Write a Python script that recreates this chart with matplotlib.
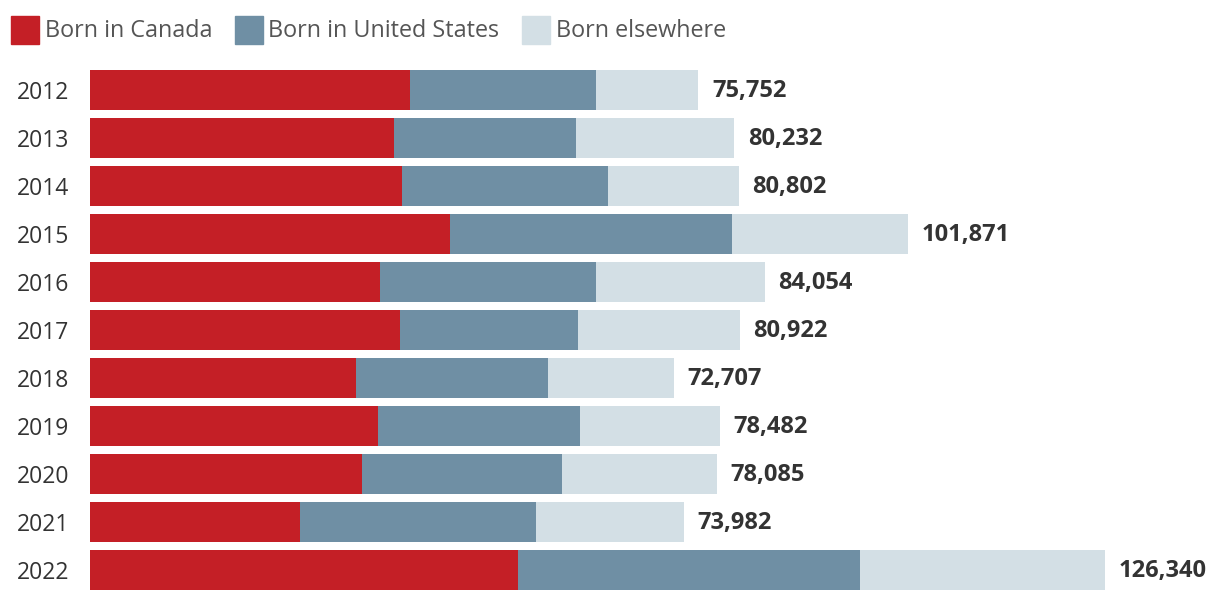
import matplotlib
matplotlib.use("Agg")
import matplotlib.pyplot as plt
from matplotlib.patches import Rectangle

years = ["2012", "2013", "2014", "2015", "2016", "2017", "2018", "2019", "2020", "2021", "2022"]
totals = [75752, 80232, 80802, 101871, 84054, 80922, 72707, 78482, 78085, 73982, 126340]
canada = [39850, 37860, 38850, 44830, 36110, 38600, 33130, 35870, 33870, 26150, 53300]
usa = [23160, 22660, 25650, 35110, 26900, 22170, 23910, 25150, 24910, 29390, 42590]
elsewhere = [t - c - u for t, c, u in zip(totals, canada, usa)]

labels = ["Born in Canada", "Born in United States", "Born elsewhere"]
colors = ["#C41F26", "#6F8FA4", "#D3DFE5"]

plt.rcParams["font.family"] = ["Open Sans", "DejaVu Sans"]

W, H = 1220, 602
fig = plt.figure(figsize=(W / 100, H / 100), dpi=100)
ax = fig.add_axes([90 / W, 1 - 594 / H, (W - 90) / W, 528 / H])

ypos = list(range(len(years)))
left = [0] * len(years)
for vals, col in zip([canada, usa, elsewhere], colors):
  ax.barh(ypos, vals, left=left, height=40 / 48, color=col, linewidth=0)
  left = [l + v for l, v in zip(left, vals)]

for y, t in zip(ypos, totals):
  ax.text(t + 1700, y + 0.02, f"{t:,}", va="center", ha="left", fontsize=17,
          fontweight="bold", color="#333333")

ax.set_xlim(0, (W - 90) / 0.00803)
ax.set_ylim(len(years) - 0.5, -0.5)
ax.set_yticks(ypos)
ax.set_yticklabels(years, fontsize=16.5, color="#333333")
ax.tick_params(axis="y", length=0, pad=15)
ax.set_xticks([])
for s in ax.spines.values():
  s.set_visible(False)

# legend drawn by hand
x = 11
for lab, col in zip(labels, colors):
  fig.patches.append(Rectangle((x / W, 1 - 44 / H), 28 / W, 28 / H,
                               transform=fig.transFigure, color=col))
  t = fig.text((x + 34) / W, 1 - 31 / H, lab, fontsize=16.8, color="#555555",
               va="center", ha="left")
  fig.canvas.draw()
  bb = t.get_window_extent()
  x = bb.x1 + 22

fig.savefig("out.png", dpi=100)
